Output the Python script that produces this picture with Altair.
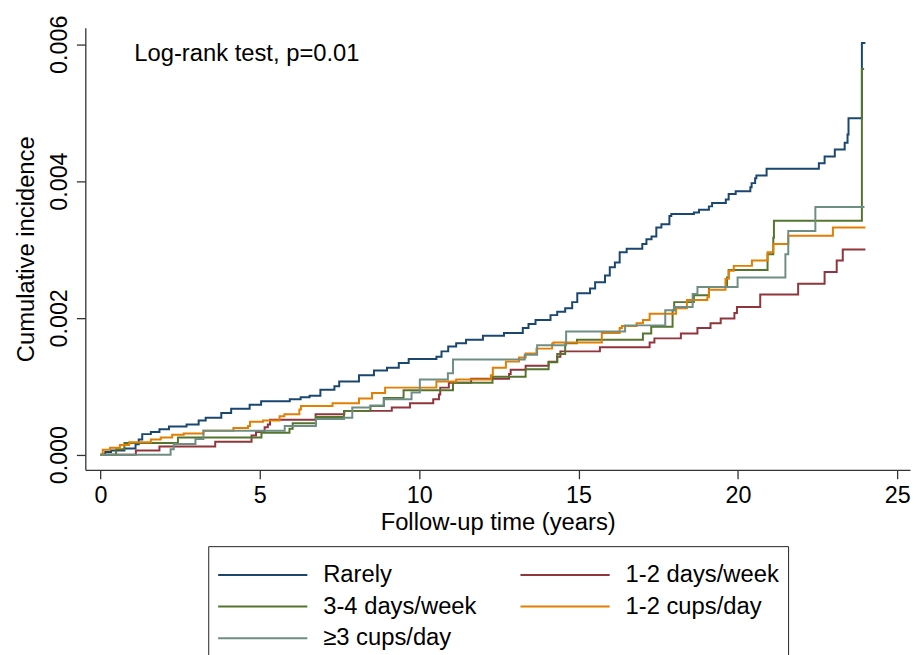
import altair as alt
import pandas as pd

FONT = "Liberation Sans"

groups = ["Rarely", "1-2 days/week", "3-4 days/week", "1-2 cups/day", "≥3 cups/day"]
colors = ["#1a476f", "#90353b", "#55752f", "#e37e00", "#6e8e84"]
# legend entries are filled column by column
legend_order = ["Rarely", "3-4 days/week", "≥3 cups/day", "1-2 days/week", "1-2 cups/day"]

# cumulative incidence values are in units of 0.001
rarely_t = [0, 0.15, 0.33, 0.75, 1.10, 1.20, 1.31, 1.58, 1.85, 2.15, 2.70, 3.08, 3.30, 3.79, 4.10,
            4.68, 5.04, 5.94, 6.28, 6.56, 6.90, 7.34, 7.49, 8.11, 8.58, 8.99, 9.36, 9.67, 10.54, 10.70,
            10.91, 11.16, 11.47, 12.00, 12.66, 13.25, 13.43, 13.65, 14.12, 14.33, 14.58, 14.80, 14.96,
            15.36, 15.52, 15.83, 15.98, 16.14, 16.29, 16.51, 17.00, 17.13, 17.29, 17.44, 17.60, 17.85,
            17.91, 18.62, 18.78, 19.09, 19.19, 19.62, 19.71, 19.93, 20.39, 20.43, 20.54, 20.58, 20.90,
            22.54, 22.72, 23.04, 23.35, 23.44, 23.47, 23.89, 24.00]
rarely_v = [0, 0.04, 0.06, 0.09, 0.15, 0.22, 0.30, 0.33, 0.37, 0.41, 0.44, 0.50, 0.54, 0.61, 0.67,
            0.73, 0.78, 0.81, 0.84, 0.86, 0.95, 1.00, 1.07, 1.16, 1.23, 1.27, 1.34, 1.40, 1.43, 1.51,
            1.58, 1.63, 1.68, 1.74, 1.78, 1.85, 1.91, 1.97, 2.04, 2.09, 2.14, 2.23, 2.36,
            2.43, 2.52, 2.62, 2.74, 2.81, 2.96, 3.01, 3.08, 3.15, 3.19, 3.32, 3.37, 3.49,
            3.52, 3.54, 3.58, 3.63, 3.68, 3.73, 3.81, 3.85, 3.91, 3.97, 4.04, 4.08, 4.18,
            4.26, 4.36, 4.46, 4.56, 4.68, 4.92, 6.02, 6.02]

d12w_t = [0, 1.11, 1.85, 3.60, 4.74, 4.88, 5.15, 5.25, 5.32, 6.75, 7.65, 9.14, 9.71, 10.44, 10.62,
          10.66, 10.93, 11.63, 12.82, 12.87, 13.34, 14.06, 14.33, 14.43, 15.67, 17.23, 17.38, 18.21,
          18.73, 19.14, 19.46, 19.89, 19.97, 20.70, 21.89, 22.72, 23.10, 23.29, 24.00]
d12w_v = [0, 0.06, 0.12, 0.19, 0.28, 0.33, 0.40, 0.44, 0.51, 0.59, 0.64, 0.69, 0.75, 0.81, 0.88,
          0.98, 1.05, 1.11, 1.18, 1.24, 1.30, 1.36, 1.43, 1.51, 1.57, 1.64, 1.70, 1.77,
          1.85, 1.92, 1.99, 2.07, 2.16, 2.34, 2.50, 2.67, 2.84, 3.00, 3.00]

d34w_t = [0, 0.49, 0.75, 2.43, 5.05, 5.93, 6.03, 6.76, 7.64, 8.47, 8.89, 9.51, 11.06, 12.30, 13.34,
          14.06, 14.33, 14.58, 14.95, 17.02, 17.28, 17.95, 18.00, 18.62, 19.09, 19.66, 19.71, 20.93,
          21.11, 21.13, 23.89, 23.96]
d34w_v = [0, 0.08, 0.17, 0.25, 0.32, 0.38, 0.46, 0.55, 0.64, 0.71, 0.83, 0.94, 1.05, 1.14, 1.25,
          1.35, 1.47, 1.63, 1.68, 1.77, 1.87, 2.11, 2.23, 2.33, 2.45, 2.59, 2.70, 2.93,
          3.17, 3.42, 5.64, 5.64]

c12d_t = [0, 0.07, 0.30, 0.61, 0.90, 1.58, 1.89, 2.25, 2.61, 3.23, 4.17, 4.63, 4.69, 5.10, 5.62,
          5.77, 6.24, 6.29, 7.28, 8.11, 8.52, 8.93, 10.54, 11.16, 12.25, 12.31, 12.72, 13.13, 13.34,
          13.68, 14.17, 14.21, 15.73, 16.29, 16.36, 16.82, 17.02, 17.23, 18.06, 18.40, 19.04, 19.09,
          19.61, 19.71, 19.87, 20.44, 20.93, 21.11, 21.58, 22.98, 24.00]
c12d_v = [0, 0.07, 0.10, 0.14, 0.18, 0.22, 0.25, 0.29, 0.31, 0.35, 0.39, 0.42, 0.48, 0.50, 0.56,
          0.59, 0.66, 0.71, 0.75, 0.82, 0.90, 0.98, 1.07, 1.10, 1.16, 1.27, 1.36, 1.42, 1.48,
          1.55, 1.62, 1.64, 1.78, 1.85, 1.88, 1.92, 1.97, 2.06, 2.14, 2.26, 2.30, 2.41,
          2.57, 2.69, 2.76, 2.84, 2.96, 3.08, 3.20, 3.32, 3.32]

c3d_t = [0, 2.20, 2.30, 2.98, 3.23, 5.78, 6.76, 7.64, 7.90, 8.47, 8.89, 9.76, 10.02, 10.90, 11.06,
         13.31, 13.70, 14.61, 16.46, 17.72, 18.03, 18.58, 18.73, 19.99, 21.49, 21.58, 22.43, 23.97]
c3d_v = [0, 0.08, 0.155, 0.23, 0.35, 0.42, 0.52, 0.54, 0.69, 0.72, 0.81, 0.91, 1.10, 1.19, 1.39,
         1.46, 1.60, 1.80, 1.89, 2.11, 2.16, 2.35, 2.45, 2.59, 2.93, 3.27, 3.62, 3.62]

x_ticks = [0, 5, 10, 15, 20, 25]
y_ticks = [0, 0.002, 0.004, 0.006]
annot_text = "Log-rank test, p=0.01"
annot_t = 1.06
annot_v = 5.76

series = [(rarely_t, rarely_v), (d12w_t, d12w_v), (d34w_t, d34w_v), (c12d_t, c12d_v), (c3d_t, c3d_v)]
rows = []
for gi, (g, (ts, vs)) in enumerate(zip(groups, series)):
    for i, (t, v) in enumerate(zip(ts, vs)):
        rows.append({"t": t, "ci": v / 1000.0, "group": g, "gorder": gi, "i": i})
df = pd.DataFrame(rows)

color_of = dict(zip(groups, colors))

xscale = alt.Scale(domain=[-0.476, 25.4], nice=False, zero=False)
yscale = alt.Scale(domain=[-0.000222, 0.006242], nice=False, zero=False)

lines = alt.Chart(df).mark_line(interpolate="step-after", strokeWidth=2).encode(
    x=alt.X("t:Q", scale=xscale,
            axis=alt.Axis(values=x_ticks, format="d", title="Follow-up time (years)",
                          labelPadding=5, titlePadding=4)),
    y=alt.Y("ci:Q", scale=yscale,
            axis=alt.Axis(values=y_ticks, format=".3f", title="Cumulative incidence",
                          labelAngle=270, labelAlign="center", labelBaseline="bottom",
                          labelPadding=5, titlePadding=9)),
    color=alt.Color("group:N",
                    scale=alt.Scale(domain=legend_order, range=[color_of[g] for g in legend_order]),
                    legend=alt.Legend(orient="none", legendX=124, legendY=523, columns=2,
                                      title=" ", titleFontSize=8, titlePadding=0,
                                      symbolType="stroke", symbolSize=8100,
                                      symbolStrokeWidth=2, clipHeight=24,
                                      labelFontSize=24, labelFont=FONT, labelColor="#000",
                                      labelOffset=15, rowPadding=8, columnPadding=43,
                                      padding=9, strokeColor="#222", fillColor="#ffffff",
                                      labelLimit=0)),
    detail="gorder:N",
    order="i:Q",
)

annot = alt.Chart(pd.DataFrame({"t": [annot_t], "ci": [annot_v / 1000.0], "txt": [annot_text]})).mark_text(
    align="left", baseline="alphabetic", fontSize=24, font=FONT, color="#000"
).encode(
    x=alt.X("t:Q", scale=xscale),
    y=alt.Y("ci:Q", scale=yscale),
    text="txt:N",
)

chart = alt.layer(lines, annot).properties(
    width=832, height=446,
    autosize=alt.AutoSizeParams(type="none"),
    padding={"left": 78, "top": 17, "right": 2, "bottom": 195},
).configure_view(stroke=None).configure_axis(
    grid=False, domainColor="#333", tickColor="#333", domainWidth=1.3, tickWidth=1.3,
    tickSize=9, labelFont=FONT, labelFontSize=23.5, labelColor="#000",
    titleFont=FONT, titleFontSize=24, titleFontWeight="normal", titleColor="#000",
)

chart.save("out.html", embed_options={"renderer": "svg", "actions": False})
